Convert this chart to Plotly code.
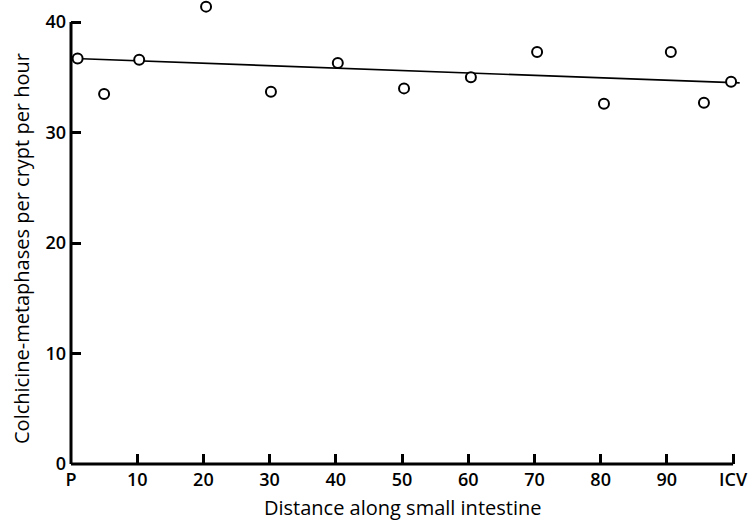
import plotly.graph_objects as go

# Data
distance = [1, 5, 10.3, 20.4, 30.2, 40.3, 50.3, 60.4, 70.4, 80.5, 90.6, 95.6, 99.7]
metaphases = [36.7, 33.5, 36.6, 41.4, 33.7, 36.3, 34.0, 35.0, 37.3, 32.6, 37.3, 32.7, 34.6]

line_x = [0.6, 101]
line_y = [36.7, 34.5]

tick_vals = [0, 10, 20, 30, 40, 50, 60, 70, 80, 90, 100]
tick_text = ["P", "10", "20", "30", "40", "50", "60", "70", "80", "90", "ICV"]
y_ticks = [0, 10, 20, 30, 40]

FONT = "Open Sans"
W, H = 756, 522
L, R, T, B = 71, 13, 0, 58
X_RANGE = [0, 101.5]
Y_RANGE = [0, 42]

fig = go.Figure()
fig.add_trace(go.Scatter(x=line_x, y=line_y, mode="lines",
                         line=dict(color="black", width=1.6),
                         showlegend=False, hoverinfo="skip"))
fig.add_trace(go.Scatter(x=distance, y=metaphases, mode="markers",
                         marker=dict(symbol="circle", size=10, color="white",
                                     line=dict(color="black", width=2)),
                         cliponaxis=False, showlegend=False))

# axis lines limited to the labelled span
fig.add_shape(type="line", xref="x", yref="paper", x0=tick_vals[0], x1=tick_vals[-1],
              y0=0, y1=0, line=dict(color="black", width=3))
fig.add_shape(type="line", xref="paper", yref="y", x0=0, x1=0,
              y0=y_ticks[0], y1=y_ticks[-1], line=dict(color="black", width=3))

pw = W - L - R
ph = H - T - B

fig.update_layout(
    width=W, height=H,
    margin=dict(l=L, r=R, t=T, b=B),
    plot_bgcolor="white", paper_bgcolor="white",
    font=dict(family=FONT, color="black", size=18),
    xaxis=dict(range=X_RANGE, tickvals=tick_vals, ticktext=tick_text,
               showgrid=False, zeroline=False, showline=False,
               ticks="inside", ticklen=10, tickwidth=3, tickcolor="black",
               tickfont=dict(family=FONT, size=18, weight=600),
               ticklabelstandoff=3),
    yaxis=dict(range=Y_RANGE, tickvals=y_ticks,
               showgrid=False, zeroline=False, showline=False,
               ticks="inside", ticklen=10, tickwidth=3, tickcolor="black",
               tickfont=dict(family=FONT, size=18, weight=600),
               ticklabelstandoff=4),
    annotations=[
        dict(text="Distance along small intestine", xref="paper", yref="paper",
             x=(402 - L) / pw, y=-(507 - (H - B)) / ph, showarrow=False,
             xanchor="center", yanchor="middle",
             font=dict(family=FONT, size=20, weight=500)),
        dict(text="Colchicine-metaphases per crypt per hour", xref="paper", yref="paper",
             x=-(L - 21) / pw, y=((H - B) - 249) / ph, showarrow=False, textangle=-90,
             xanchor="center", yanchor="middle",
             font=dict(family=FONT, size=20, weight=500)),
    ],
)

fig.write_html("out.html", config={"displayModeBar": False},
               post_script="document.body.style.margin='0';")
